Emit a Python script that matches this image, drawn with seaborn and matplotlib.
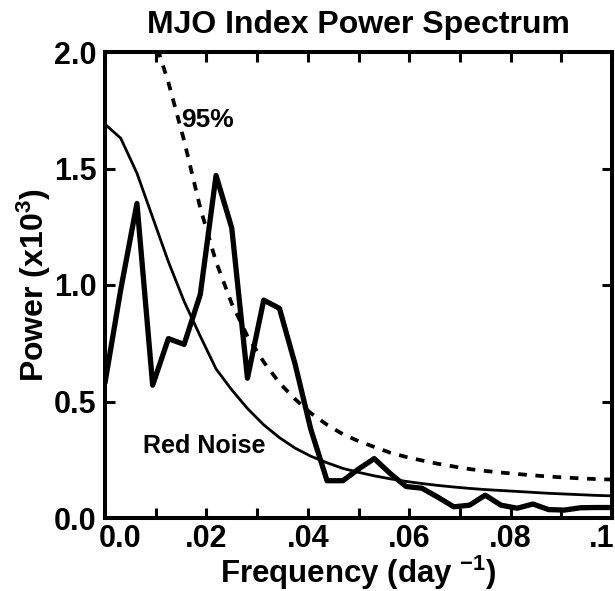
import numpy as np
import pandas as pd
import matplotlib
matplotlib.use("Agg")
import matplotlib.pyplot as plt
import seaborn as sns
from matplotlib.transforms import ScaledTranslation

# ---- data ----
freq = [0.0, 0.0031, 0.0063, 0.0094, 0.0125, 0.0156, 0.0188, 0.0219, 0.025,
        0.0281, 0.0313, 0.0344, 0.0375, 0.0406, 0.0438, 0.0469, 0.05, 0.0531,
        0.0563, 0.0594, 0.0625, 0.0656, 0.0688, 0.0719, 0.075, 0.0781, 0.0813,
        0.0844, 0.0875, 0.0906, 0.0938, 0.0969, 0.1]
power = [0.58, 0.98, 1.35, 0.57, 0.77, 0.745, 0.96, 1.47, 1.245, 0.60, 0.935,
         0.90, 0.66, 0.38, 0.16, 0.16, 0.21, 0.255, 0.19, 0.135, 0.128, 0.09,
         0.048, 0.055, 0.098, 0.055, 0.042, 0.06, 0.036, 0.034, 0.044, 0.045,
         0.045]
red_noise = [1.69, 1.63, 1.48, 1.29, 1.10, 0.93, 0.78, 0.64, 0.55, 0.47, 0.40,
             0.345, 0.30, 0.265, 0.237, 0.213, 0.196, 0.181, 0.168, 0.157, 0.148,
             0.14, 0.133, 0.127, 0.122, 0.118, 0.114, 0.11, 0.106, 0.103, 0.1,
             0.097, 0.095]
sig95 = [2.7, 2.6, 2.37, 2.08, 1.87, 1.62, 1.33, 1.10, 0.92, 0.78, 0.67, 0.58,
         0.51, 0.45, 0.40, 0.36, 0.33, 0.305, 0.28, 0.262, 0.247, 0.233, 0.221,
         0.21, 0.202, 0.195, 0.189, 0.183, 0.178, 0.174, 0.17, 0.167, 0.165]

x_ticks = [0.0, 0.01, 0.02, 0.03, 0.04, 0.05, 0.06, 0.07, 0.08, 0.09, 0.1]
x_ticklabels = ['0.0', '', '.02', '', '.04', '', '.06', '', '.08', '', '.1']
y_ticks = [0.0, 0.5, 1.0, 1.5, 2.0]
y_ticklabels = ['0.0', '0.5', '1.0', '1.5', '2.0']

title = 'MJO Index Power Spectrum'
xlabel = 'Frequency (day $^{-1}$)'
ylabel = 'Power (x10$^3$)'

# ---- style ----
sns.set_style('ticks')
plt.rcParams['font.family'] = ['Liberation Sans', 'DejaVu Sans']
plt.rcParams['font.weight'] = 'bold'
plt.rcParams['text.color'] = 'black'
plt.rcParams['axes.labelcolor'] = 'black'
plt.rcParams['xtick.color'] = 'black'
plt.rcParams['ytick.color'] = 'black'
plt.rcParams['mathtext.fontset'] = 'custom'
plt.rcParams['mathtext.rm'] = 'Liberation Sans:bold'
plt.rcParams['mathtext.it'] = 'Liberation Sans:bold'
plt.rcParams['mathtext.bf'] = 'Liberation Sans:bold'
plt.rcParams['mathtext.default'] = 'rm'

W, H = 615, 591
fig = plt.figure(figsize=(W / 100, H / 100), dpi=100)
ax = fig.add_axes([105 / W, 1 - 518 / H, 507 / W, 466 / H])

df = pd.DataFrame({'freq': freq, 'power': power, 'red': red_noise, 'sig': sig95})

sns.lineplot(data=df, x='freq', y='power', ax=ax, color='black', linewidth=3.8)
sns.lineplot(data=df, x='freq', y='red', ax=ax, color='black', linewidth=2.0)
sns.lineplot(data=df, x='freq', y='sig', ax=ax, color='black', linewidth=2.7,
             linestyle=(0, (2.3, 2.3)))

ax.set_xlim(0, 0.1)
ax.set_ylim(0, 2.0)
ax.set_xticks(x_ticks)
ax.set_xticklabels(x_ticklabels)
ax.set_yticks(y_ticks)
ax.set_yticklabels(y_ticklabels)

ax.tick_params(axis='both', direction='in', length=7, width=2.2, top=True,
               right=True, labelsize=22, pad=4, colors='black')
ax.tick_params(axis='y', pad=6)
for s in ax.spines.values():
    s.set_linewidth(2.9)
    s.set_color('black')

# nudge end labels like the original
labs = ax.get_xticklabels()
labs[0].set_transform(labs[0].get_transform() + ScaledTranslation(0.15, 0, fig.dpi_scale_trans))
labs[-1].set_transform(labs[-1].get_transform() + ScaledTranslation(-0.10, 0, fig.dpi_scale_trans))

ax.set_xlabel(xlabel, fontsize=22.5, fontweight='bold', labelpad=0)
ax.set_ylabel(ylabel, fontsize=23, fontweight='bold', labelpad=1)
ax.set_title(title, fontsize=23, fontweight='bold', pad=14)

ax.text(0.0151, 1.71, '95%', fontsize=19, fontweight='bold', va='center', ha='left')
ax.text(0.0075, 0.31, 'Red Noise', fontsize=18, fontweight='bold', va='center', ha='left')

fig.savefig('out.png', dpi=100)
